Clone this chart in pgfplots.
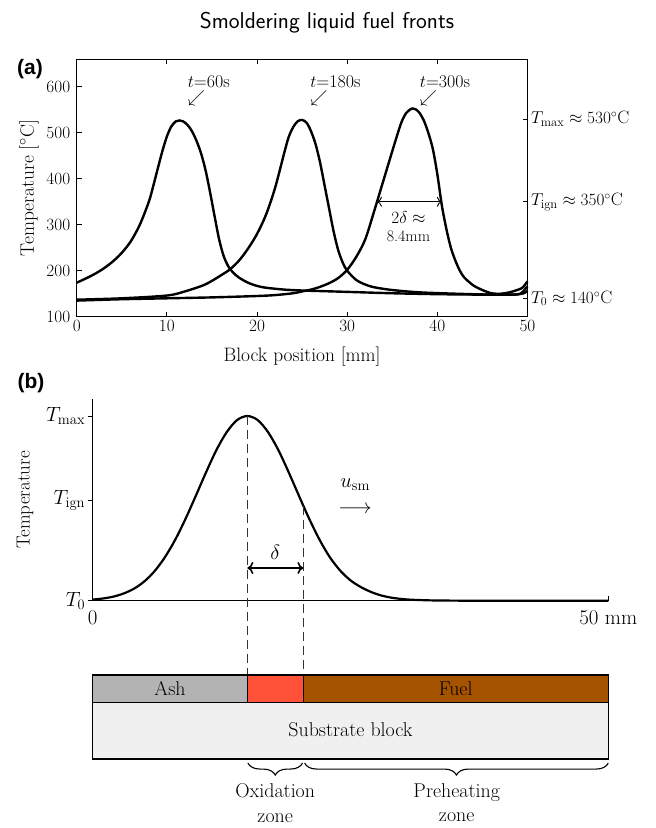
\documentclass[border=0pt]{standalone}
\usepackage{fontspec}
\usepackage{pgfplots}
\usepackage{pgfplotstable}
\pgfplotsset{compat=1.18}
\usetikzlibrary{decorations.pathreplacing,arrows.meta}
\newfontfamily\arialfont{Liberation Sans}
\definecolor{ashgray}{RGB}{179,179,179}
\definecolor{oxred}{RGB}{255,82,56}
\definecolor{fuelbrown}{RGB}{166,83,0}
\definecolor{subgray}{RGB}{240,240,240}
\newcommand{\fs}[1]{\fontsize{#1}{#1}\selectfont}

\pgfplotstableread{
x y
0 174
1 183
2 193
3 205
4 220
5 239
6 264
7 300
8 350
8.5 385
9 423
9.5 460
10 492
10.5 514
11 525
11.4 527
11.8 525
12.3 517
12.8 503
13.3 482
13.8 455
14.3 418
14.8 370
15.3 318
15.8 268
16.3 232
16.8 210
17.3 197
18 185
19 174
20 167
21 163
23 159
25 157
30 154
35 151
40 149
45 148
48 148
49 149
49.6 151
50 156
}\curveA

\pgfplotstableread{
x y
0 137
5 140
10 146
12 155
14 168
15 178
16 190
17 203
18 222
19 248
20 280
21 322
22 380
23 455
23.5 490
24 512
24.5 525
25 528
25.5 522
26 503
26.5 475
27 435
27.5 385
28 335
28.5 285
29 245
29.5 218
30 200
31 180
32 170
33 164
35 158
38 153
42 150
46 148
48 148
49.2 150
50 166
}\curveB

\pgfplotstableread{
x y
0 135
5 138
10 140
15 142
20 145
22 147
24 151
25 155
26 159
27 165
28 173
29 184
30 202
31 230
32 268
33 330
34 395
35 460
35.5 492
36 522
36.5 542
37 551
37.2 553
37.6 551
38 544
38.5 527
39 500
39.5 465
40 410
40.5 342
41 291
41.5 250
42 222
42.5 200
43 185
44 168
45 158
46 151
47 150
48 153
49 159
49.5 164
50 177
}\curveC

\pgfplotstableread{
x y
0 0.006
1 0.012
2 0.022
3 0.039
4 0.065
5 0.104
6 0.16
7 0.235
8 0.33
9 0.443
10 0.568
11 0.696
12 0.816
13 0.913
14 0.978
15 1
16 0.978
17 0.913
18 0.816
19 0.696
20 0.568
21 0.443
22 0.33
23 0.235
24 0.163
25 0.11
26 0.074
27 0.047
28 0.028
29 0.016
30 0.009
31 0.005
32 0.003
33 0.0015
35 0.0004
38 0
50 0
}\curveSchematic

\begin{document}
\begin{tikzpicture}
\useasboundingbox (0bp,0bp) rectangle (656bp,828bp);
\node[font=\sffamily\fs{23}] at (327bp,805bp) {Smoldering liquid fuel fronts};
\node[font=\arialfont\bfseries\fs{21}] at (30bp,759bp) {(a)};
\node[font=\arialfont\bfseries\fs{21}] at (31bp,445bp) {(b)};

% ---------- panel (a) ----------
\begin{axis}[
  at={(76.7bp,511.3bp)}, anchor=south west,
  scale only axis, width=450.8bp, height=257.4bp,
  xmin=0, xmax=50, ymin=100, ymax=660,
  xtick={0,10,...,50}, ytick={100,200,...,600},
  xtick pos=both, xticklabel pos=lower, ytick pos=left,
  tick align=inside, major tick length=5bp,
  axis line style={line width=0.9bp},
  tick style={line width=0.8bp, black},
  xticklabel style={font=\fs{16}},
  yticklabel style={font=\fs{16}, xshift=-3bp},
  xlabel={Block position [mm]}, ylabel={Temperature [$^\circ$C]},
  xlabel style={font=\fs{19.5}, at={(axis description cs:0.5,-0.155)}, anchor=center},
  ylabel style={font=\fs{19.5}, at={(axis description cs:-0.106,0.5)}, anchor=center},
  clip=false,
]
\addplot[black, line width=2.4bp, smooth, tension=0.5] table {\curveA};
\addplot[black, line width=2.4bp, smooth, tension=0.5] table {\curveB};
\addplot[black, line width=2.4bp, smooth, tension=0.5] table {\curveC};
\node[font=\fs{18}, inner sep=0pt, anchor=north west, align=left] at (axis cs:12.3,624) {$t$=60s\\[-3bp]$\swarrow$};
\node[font=\fs{18}, inner sep=0pt, anchor=north west, align=left] at (axis cs:25.9,624) {$t$=180s\\[-3bp]$\swarrow$};
\node[font=\fs{18}, inner sep=0pt, anchor=north west, align=left] at (axis cs:38.05,624) {$t$=300s\\[-3bp]$\swarrow$};
\draw[line width=0.9bp, {To[length=5bp,width=10bp]}-{To[length=5bp,width=10bp]}] (axis cs:33.3,350) -- (axis cs:40.5,350);
\node[font=\fs{16}] at (axis cs:36.8,315) {$2\delta\approx$};
\node[font=\fs{16}] at (axis cs:36.8,274) {8.4mm};
\end{axis}

\begin{axis}[
  at={(76.7bp,511.3bp)}, anchor=south west,
  scale only axis, width=450.8bp, height=257.4bp,
  xmin=0, xmax=50, ymin=100, ymax=660,
  axis x line=none, axis y line*=right,
  axis line style={line width=0.9bp, -},
  ytick={140,350,530},
  yticklabels={$T_0\approx140^\circ\mathrm{C}$, $T_{\mathrm{ign}}\approx350^\circ\mathrm{C}$, $T_{\max}\approx530^\circ\mathrm{C}$},
  tick align=inside, major tick length=5bp,
  tick style={line width=0.8bp, black},
  yticklabel style={font=\fs{18}},
]
\addplot[draw=none] coordinates {(0,140)};
\end{axis}

% ---------- panel (b) ----------
\begin{axis}[
  at={(92.7bp,227.3bp)}, anchor=south west,
  scale only axis, width=515.6bp, height=201.7bp,
  xmin=0, xmax=50, ymin=0, ymax=1.092,
  axis lines=left, axis line style={-, line width=0.8bp},
  xtick={0,50}, xticklabels={0, 50 mm},
  ytick={0,0.541,1}, yticklabels={$T_0$,$T_{\mathrm{ign}}$,$T_{\max}$},
  tick align=inside, major tick length=5bp,
  tick style={line width=0.8bp, black},
  y tick style={xshift=-5bp},
  xticklabel style={font=\fs{21}, yshift=-6bp},
  yticklabel style={font=\fs{21}, xshift=-4bp},
  ylabel={Temperature},
  ylabel style={font=\fs{19}, at={(axis description cs:-0.131,0.5)}, anchor=center},
  clip=false,
]
\addplot[black, line width=2.2bp, smooth] table {\curveSchematic};
\draw[line width=0.8bp, dash pattern=on 9bp off 5bp, black!80] (axis cs:15,1) -- (axis cs:15,-0.402);
\draw[line width=0.8bp, dash pattern=on 9bp off 5bp, black!80] (axis cs:20.43,0.513) -- (axis cs:20.43,-0.402);
\draw[line width=1.6bp, {To[length=6bp,width=12bp]}-{To[length=6bp,width=12bp]}] (axis cs:15,0.177) -- (axis cs:20.43,0.177);
\node[font=\fs{21}] at (axis cs:17.7,0.264) {$\delta$};
\node[font=\fs{21}] at (axis cs:25.45,0.626) {$u_{\mathrm{sm}}$};
\node[font=\fs{21}] at (axis cs:25.45,0.491) {$\longrightarrow$};
% bar
\filldraw[fill=subgray, draw=black, line width=1.3bp] (axis cs:0,-0.550) rectangle (axis cs:50,-0.857);
\filldraw[fill=ashgray, draw=black, line width=1.3bp] (axis cs:0,-0.402) rectangle (axis cs:15,-0.550);
\filldraw[fill=oxred, draw=black, line width=1.3bp] (axis cs:15,-0.402) rectangle (axis cs:20.43,-0.550);
\filldraw[fill=fuelbrown, draw=black, line width=1.3bp] (axis cs:20.43,-0.402) rectangle (axis cs:50,-0.550);
\node[font=\fs{20}] at (axis cs:7.5,-0.476) {Ash};
\node[font=\fs{20}] at (axis cs:35.2,-0.476) {Fuel};
\node[font=\fs{20}] at (axis cs:25,-0.70) {Substrate block};
\draw[line width=1.1bp, decorate, decoration={brace, mirror, amplitude=12bp}] (axis cs:15.05,-0.879) -- (axis cs:20.35,-0.879);
\draw[line width=1.1bp, decorate, decoration={brace, mirror, amplitude=12bp}] (axis cs:20.55,-0.879) -- (axis cs:50,-0.879);
\node[font=\fs{20}, align=center, anchor=north, inner sep=0pt] at (axis cs:17.7,-0.987) {Oxidation\\[5bp]zone};
\node[font=\fs{20}, align=center, anchor=north, inner sep=0pt] at (axis cs:35.3,-0.987) {Preheating\\[5bp]zone};
\end{axis}
\end{tikzpicture}
\end{document}
